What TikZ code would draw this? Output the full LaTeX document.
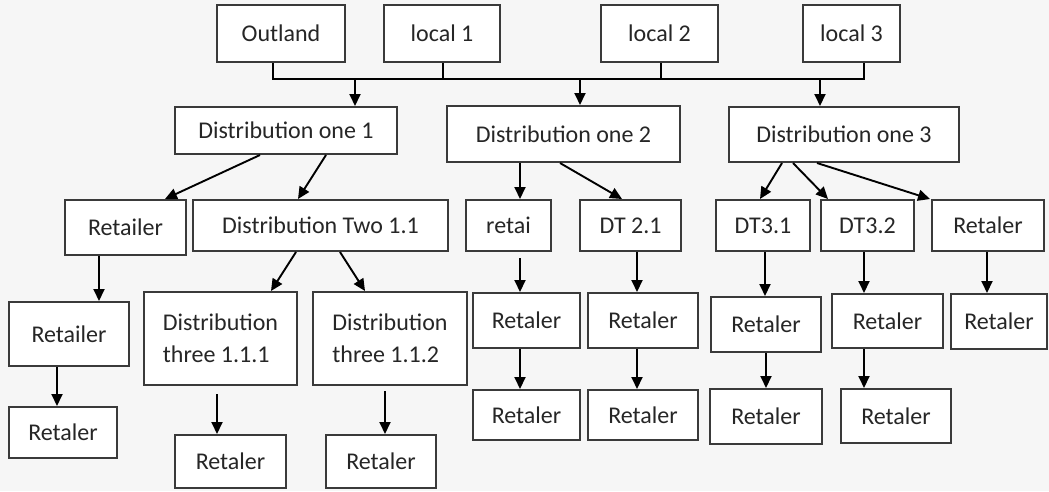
\documentclass[tikz,border=0pt]{standalone}
\usepackage{fontspec}
\setmainfont{Carlito}
\usetikzlibrary{arrows.meta}
\definecolor{txt}{HTML}{262626}
\definecolor{bord}{HTML}{3A3A3A}
\definecolor{bg}{HTML}{F6F6F6}
\begin{document}
\begin{tikzpicture}[x=1pt,y=-1pt,
  box/.style={draw=bord,line width=2pt,fill=white,text=txt,inner sep=0pt,
    font=\fontsize{24}{30}\selectfont,align=left},
  arr/.style={line width=1.9pt,-{Triangle[length=12pt,width=11pt]}},
  ln/.style={line width=1.9pt}]
\fill[bg] (0,0) rectangle (1049,491);
\useasboundingbox (0,0) rectangle (1049,491);
% top row
\node[box,minimum width=128pt,minimum height=57pt] (out) at (281,33.5) {Outland};
\node[box,minimum width=116pt,minimum height=57pt] (l1) at (442,33.5) {local 1};
\node[box,minimum width=117pt,minimum height=57pt] (l2) at (659.5,33.5) {local 2};
\node[box,minimum width=97pt,minimum height=57pt] (l3) at (851.5,33.5) {local 3};
% second row
\node[box,minimum width=222pt,minimum height=47pt] (d1) at (286,130.5) {Distribution one 1};
\node[box,minimum width=233pt,minimum height=56pt] (d2) at (563.5,134) {Distribution one 2};
\node[box,minimum width=230pt,minimum height=55pt] (d3) at (844,134.5) {Distribution one 3};
% third row
\node[box,minimum width=121pt,minimum height=55pt] (r3a) at (125.5,227.5) {Retailer};
\node[box,minimum width=255pt,minimum height=51pt] (dt11) at (320.5,225.5) {Distribution Two 1.1};
\node[box,minimum width=85pt,minimum height=51pt] (retai) at (508.5,225.5) {retai};
\node[box,minimum width=101pt,minimum height=51pt] (dt21) at (630.5,225.5) {DT 2.1};
\node[box,minimum width=94pt,minimum height=51pt] (dt31) at (763,225.5) {DT3.1};
\node[box,minimum width=93pt,minimum height=51pt] (dt32) at (867.5,225.5) {DT3.2};
\node[box,minimum width=112pt,minimum height=51pt] (r3g) at (988,225.5) {Retaler};
% fourth row
\node[box,minimum width=120pt,minimum height=64pt] (r4a) at (69,334) {Retailer};
\node[box,minimum width=153pt,minimum height=93pt] (d111) at (220.5,338.5) {Distribution\\[2pt]three 1.1.1};
\node[box,minimum width=154pt,minimum height=93pt] (d112) at (390,338.5) {Distribution\\[2pt]three 1.1.2};
\node[box,minimum width=107pt,minimum height=55pt] (r4d) at (526.5,320.5) {Retaler};
\node[box,minimum width=110pt,minimum height=55pt] (r4e) at (643,320.5) {Retaler};
\node[box,minimum width=110pt,minimum height=55pt] (r4f) at (766,324.5) {Retaler};
\node[box,minimum width=111pt,minimum height=54pt] (r4g) at (887.5,321) {Retaler};
\node[box,minimum width=96pt,minimum height=55pt] (r4h) at (999,321.5) {Retaler};
% fifth row
\node[box,minimum width=108pt,minimum height=51pt] (r5a) at (63,432.5) {Retaler};
\node[box,minimum width=111pt,minimum height=53pt] (r5b) at (230.5,461.5) {Retaler};
\node[box,minimum width=110pt,minimum height=53pt] (r5c) at (381,461.5) {Retaler};
\node[box,minimum width=107pt,minimum height=50pt] (r5d) at (526.5,415) {Retaler};
\node[box,minimum width=110pt,minimum height=50pt] (r5e) at (643,415) {Retaler};
\node[box,minimum width=112pt,minimum height=55pt] (r5f) at (766,416.5) {Retaler};
\node[box,minimum width=110pt,minimum height=54pt] (r5g) at (896,416) {Retaler};
% bus
\coordinate (b1) at (273,79);
\coordinate (b2) at (443,79);
\coordinate (b3) at (661,79);
\coordinate (b4) at (864,79);
\coordinate (a1) at (355,79);
\coordinate (a2) at (580,79);
\coordinate (a3) at (820,79);
\draw[ln] (b1 |- out.south) -- (b1) -- (b4) -- (b4 |- l3.south);
\draw[ln] (b2 |- l1.south) -- (b2);
\draw[ln] (b3 |- l2.south) -- (b3);
\draw[arr] (a1) -- (a1 |- d1.north);
\draw[arr] (a2) -- (a2 |- d2.north);
\draw[arr] (a3) -- (a3 |- d3.north);
% second to third
\draw[arr] ([xshift=-26pt]d1.south) -- ([xshift=39.5pt]r3a.north);
\draw[arr] ([xshift=40pt]d1.south) -- ([xshift=-22.5pt]dt11.north);
\draw[arr] ([xshift=-43.5pt]d2.south) -- ([xshift=11.5pt]retai.north);
\draw[arr] ([xshift=-3.5pt]d2.south) -- ([xshift=-8.5pt]dt21.north);
\draw[arr] ([xshift=-62pt]d3.south) -- ([xshift=-3pt]dt31.north);
\draw[arr] ([xshift=-51pt]d3.south) -- ([xshift=-39.5pt]dt32.north);
\draw[arr] ([xshift=-27pt]d3.south) -- ([xshift=-58pt]r3g.north);
% third to fourth
\draw[arr] ([xshift=-26.5pt]r3a.south) -- ([xshift=30pt]r4a.north);
\draw[arr] ([xshift=-24.5pt]dt11.south) -- ([xshift=50.5pt]d111.north);
\draw[arr] ([xshift=19.5pt]dt11.south) -- ([xshift=-25pt]d112.north);
\draw[arr,shorten <=6pt] ([xshift=11.5pt]retai.south) -- ([xshift=-6.5pt]r4d.north);
\draw[arr] ([xshift=6.5pt]dt21.south) -- ([xshift=-6pt]r4e.north);
\draw[arr] ([xshift=2pt]dt31.south) -- ([xshift=-1pt]r4f.north);
\draw[arr] ([xshift=-3.5pt]dt32.south) -- ([xshift=-23.5pt]r4g.north);
\draw[arr] ([xshift=-1pt]r3g.south) -- ([xshift=-12pt]r4h.north);
% fourth to fifth
\draw[arr] ([xshift=-12pt]r4a.south) -- ([xshift=-6pt]r5a.north);
\draw[arr,shorten <=8pt] ([xshift=-3.5pt]d111.south) -- ([xshift=-13.5pt]r5b.north);
\draw[arr,shorten <=5pt] ([xshift=-5pt]d112.south) -- ([xshift=4pt]r5c.north);
\draw[arr] ([xshift=-6.5pt]r4d.south) -- ([xshift=-6.5pt]r5d.north);
\draw[arr] ([xshift=-6pt]r4e.south) -- ([xshift=-6pt]r5e.north);
\draw[arr] (r4f.south) -- (r5f.north);
\draw[arr] ([xshift=-23.5pt]r4g.south) -- ([xshift=-32pt]r5g.north);
\end{tikzpicture}
\end{document}
